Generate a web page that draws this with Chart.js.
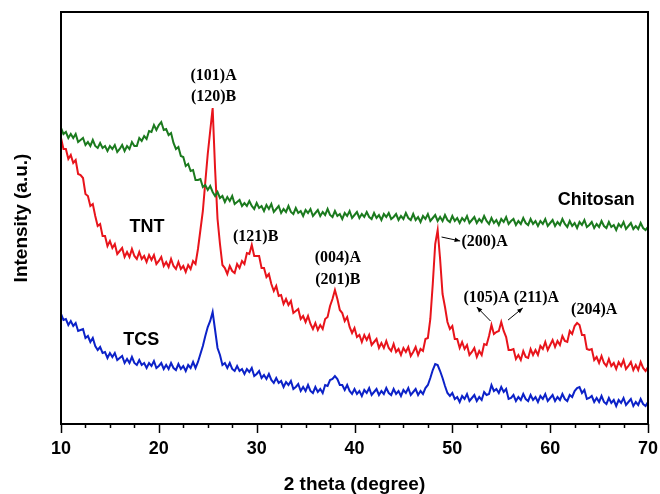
<!DOCTYPE html>
<html>
<head>
<meta charset="utf-8">
<script src="https://cdn.jsdelivr.net/npm/chart.js@4.4.1/dist/chart.umd.min.js"></script>
<style>
  html, body { margin: 0; padding: 0; background: #ffffff; }
  #grafico { display: block; }
</style>
</head>
<body>
<canvas id="grafico" width="660" height="494"></canvas>
<script>
// angulos 2 theta (grados), paso 0.25
var theta = [
    10, 10.25, 10.5, 10.75, 11, 11.25, 11.5, 11.75,
    12, 12.25, 12.5, 12.75, 13, 13.25, 13.5, 13.75,
    14, 14.25, 14.5, 14.75, 15, 15.25, 15.5, 15.75,
    16, 16.25, 16.5, 16.75, 17, 17.25, 17.5, 17.75,
    18, 18.25, 18.5, 18.75, 19, 19.25, 19.5, 19.75,
    20, 20.25, 20.5, 20.75, 21, 21.25, 21.5, 21.75,
    22, 22.25, 22.5, 22.75, 23, 23.25, 23.5, 23.75,
    24, 24.25, 24.5, 24.75, 25, 25.25, 25.5, 25.75,
    26, 26.25, 26.5, 26.75, 27, 27.25, 27.5, 27.75,
    28, 28.25, 28.5, 28.75, 29, 29.25, 29.5, 29.75,
    30, 30.25, 30.5, 30.75, 31, 31.25, 31.5, 31.75,
    32, 32.25, 32.5, 32.75, 33, 33.25, 33.5, 33.75,
    34, 34.25, 34.5, 34.75, 35, 35.25, 35.5, 35.75,
    36, 36.25, 36.5, 36.75, 37, 37.25, 37.5, 37.75,
    38, 38.25, 38.5, 38.75, 39, 39.25, 39.5, 39.75,
    40, 40.25, 40.5, 40.75, 41, 41.25, 41.5, 41.75,
    42, 42.25, 42.5, 42.75, 43, 43.25, 43.5, 43.75,
    44, 44.25, 44.5, 44.75, 45, 45.25, 45.5, 45.75,
    46, 46.25, 46.5, 46.75, 47, 47.25, 47.5, 47.75,
    48, 48.25, 48.5, 48.75, 49, 49.25, 49.5, 49.75,
    50, 50.25, 50.5, 50.75, 51, 51.25, 51.5, 51.75,
    52, 52.25, 52.5, 52.75, 53, 53.25, 53.5, 53.75,
    54, 54.25, 54.5, 54.75, 55, 55.25, 55.5, 55.75,
    56, 56.25, 56.5, 56.75, 57, 57.25, 57.5, 57.75,
    58, 58.25, 58.5, 58.75, 59, 59.25, 59.5, 59.75,
    60, 60.25, 60.5, 60.75, 61, 61.25, 61.5, 61.75,
    62, 62.25, 62.5, 62.75, 63, 63.25, 63.5, 63.75,
    64, 64.25, 64.5, 64.75, 65, 65.25, 65.5, 65.75,
    66, 66.25, 66.5, 66.75, 67, 67.25, 67.5, 67.75,
    68, 68.25, 68.5, 68.75, 69, 69.25, 69.5, 69.75,
    70
];

// intensidad (u.a.)
var chitosan = [
    296, 290, 292, 286, 290, 286, 290, 282,
    284, 286, 279, 282, 278, 284, 278, 276,
    281, 276, 278, 273, 278, 275, 279, 272,
    275, 279, 273, 278, 275, 282, 278, 278,
    286, 283, 288, 285, 293, 292, 299, 294,
    299, 302, 294, 295, 289, 291, 281, 275,
    277, 268, 267, 258, 260, 253, 254, 244,
    244, 245, 237, 239, 234, 238, 232, 228,
    232, 226, 228, 222, 227, 223, 228, 220,
    222, 224, 218, 221, 218, 223, 218, 215,
    221, 216, 218, 213, 219, 215, 220, 212,
    215, 218, 211, 215, 212, 218, 212, 210,
    216, 211, 213, 208, 214, 211, 215, 208,
    211, 214, 208, 212, 209, 215, 209, 207,
    213, 208, 210, 205, 211, 208, 213, 206,
    209, 212, 206, 210, 207, 212, 207, 205,
    211, 206, 209, 204, 210, 207, 211, 205,
    207, 210, 204, 208, 205, 211, 206, 204,
    210, 204, 207, 202, 208, 205, 210, 203,
    206, 209, 203, 207, 203, 209, 204, 202,
    208, 203, 206, 201, 206, 203, 208, 201,
    204, 207, 201, 205, 202, 208, 203, 200,
    206, 201, 204, 199, 205, 202, 207, 200,
    203, 205, 199, 203, 200, 206, 201, 199,
    205, 200, 203, 198, 203, 200, 205, 198,
    201, 204, 198, 202, 199, 205, 200, 197,
    203, 198, 201, 196, 202, 199, 204, 197,
    199, 202, 196, 200, 197, 203, 198, 196,
    202, 197, 199, 194, 200, 197, 202, 195,
    198, 201, 195, 198, 195, 201, 196, 194,
    197
];

var tnt = [
    286, 275, 275, 265, 269, 261, 264, 250,
    249, 246, 230, 228, 218, 220, 208, 198,
    200, 188, 188, 178, 183, 176, 180, 170,
    173, 176, 167, 172, 167, 175, 168, 165,
    172, 165, 168, 162, 169, 164, 169, 160,
    163, 167, 158, 162, 157, 165, 158, 155,
    162, 155, 158, 152, 159, 155, 163, 160,
    175, 194, 213, 242, 270, 293, 316, 255,
    205, 180, 159, 156, 150, 158, 153, 151,
    160, 156, 163, 160, 171, 170, 179, 168,
    168, 168, 156, 156, 147, 150, 140, 133,
    138, 128, 129, 120, 125, 119, 123, 111,
    113, 115, 105, 108, 102, 108, 100, 95,
    101, 94, 99, 95, 105, 107, 118, 125,
    134, 125, 114, 111, 103, 107, 97, 91,
    96, 87, 89, 82, 89, 84, 89, 79,
    82, 85, 76, 81, 76, 83, 76, 73,
    80, 72, 75, 69, 76, 72, 77, 68,
    72, 77, 69, 75, 73, 85, 86, 105,
    140, 180, 194, 165, 130, 117, 102, 95,
    98, 85, 85, 76, 82, 75, 79, 69,
    72, 76, 67, 73, 69, 80, 79, 88,
    99, 90, 92, 93, 102, 93, 87, 74,
    74, 75, 65, 69, 64, 73, 67, 66,
    75, 69, 74, 69, 78, 75, 82, 74,
    79, 84, 77, 83, 79, 88, 83, 82,
    93, 90, 98, 101, 99, 89, 89, 75,
    74, 75, 64, 67, 61, 68, 61, 58,
    65, 58, 61, 55, 62, 58, 64, 55,
    58, 62, 54, 59, 54, 62, 56, 53,
    57
];

var tcs = [
    110, 104, 105, 99, 103, 98, 101, 93,
    94, 95, 86, 88, 82, 86, 78, 74,
    77, 71, 72, 66, 71, 67, 71, 64,
    66, 68, 61, 65, 61, 67, 61, 59,
    64, 59, 61, 56, 61, 58, 63, 56,
    58, 61, 55, 59, 55, 61, 56, 54,
    60, 55, 58, 53, 59, 56, 62, 56,
    62, 70, 78, 88, 97, 103, 112, 94,
    76, 69, 59, 61, 56, 61, 55, 53,
    58, 53, 55, 50, 55, 52, 56, 48,
    50, 53, 46, 49, 45, 50, 44, 41,
    46, 41, 43, 37, 42, 39, 43, 35,
    37, 40, 33, 37, 33, 39, 33, 31,
    37, 32, 35, 31, 39, 38, 44, 45,
    48, 45, 39, 39, 34, 39, 33, 30,
    35, 30, 33, 28, 34, 31, 36, 29,
    32, 35, 29, 33, 30, 36, 31, 29,
    35, 30, 33, 28, 34, 31, 36, 29,
    32, 35, 29, 33, 30, 36, 39, 46,
    54, 60, 59, 53, 46, 38, 31, 28,
    31, 25, 27, 22, 28, 25, 30, 23,
    26, 29, 23, 27, 24, 32, 29, 30,
    39, 33, 35, 31, 37, 32, 35, 25,
    26, 29, 23, 27, 24, 30, 25, 23,
    29, 24, 27, 22, 28, 25, 30, 23,
    26, 29, 23, 27, 24, 30, 25, 23,
    29, 27, 33, 36, 37, 31, 34, 25,
    26, 28, 22, 26, 22, 28, 22, 20,
    26, 21, 24, 18, 24, 21, 26, 19,
    22, 25, 18, 22, 19, 25, 20, 18,
    22
];

var ticksX = [10, 20, 30, 40, 50, 60, 70];

// etiquetas de picos (posicion en unidades del grafico)
var etiquetas = [
    { texto: '(101)A', x: 25.6, y: 348, fuente: 'serif' },
    { texto: '(120)B', x: 25.6, y: 327, fuente: 'serif' },
    { texto: '(121)B', x: 29.9, y: 187, fuente: 'serif' },
    { texto: '(004)A', x: 38.3, y: 166, fuente: 'serif' },
    { texto: '(201)B', x: 38.3, y: 144, fuente: 'serif' },
    { texto: '(200)A', x: 53.3, y: 182, fuente: 'serif' },
    { texto: '(105)A', x: 53.5, y: 126, fuente: 'serif' },
    { texto: '(211)A', x: 58.6, y: 126, fuente: 'serif' },
    { texto: '(204)A', x: 64.5, y: 114, fuente: 'serif' },
    { texto: 'TNT', x: 18.8, y: 197, fuente: 'sans' },
    { texto: 'TCS', x: 18.2, y: 84, fuente: 'sans' },
    { texto: 'Chitosan', x: 64.7, y: 224, fuente: 'sans' }
];

var flechas = [
    { x1: 48.9, y1: 187, x2: 50.8, y2: 183 },
    { x1: 53.9, y1: 103, x2: 52.5, y2: 117 },
    { x1: 55.7, y1: 104, x2: 57.2, y2: 116 }
];

function puntos(valores) {
    return theta.map(function (t, i) { return { x: t, y: valores[i] }; });
}

var marco = {
    id: 'marco',
    afterDatasetsDraw: function (chart) {
        var ctx = chart.ctx;
        var area = chart.chartArea;
        var escX = chart.scales.x;
        var escY = chart.scales.y;

        ctx.save();
        // marco
        ctx.strokeStyle = '#000';
        ctx.lineWidth = 2;
        ctx.strokeRect(area.left, area.top, area.right - area.left, area.bottom - area.top);

        // marcas del eje x
        ctx.lineWidth = 1.5;
        for (var v = escX.min; v <= escX.max + 0.01; v += 2.5) {
            var px = Math.round(escX.getPixelForValue(v)) + 0.5;
            var largo = (v % 10 === 0) ? 9 : 4;
            ctx.beginPath();
            ctx.moveTo(px, area.bottom);
            ctx.lineTo(px, area.bottom + largo);
            ctx.stroke();
        }

        // etiquetas
        ctx.fillStyle = '#000';
        ctx.textAlign = 'center';
        ctx.textBaseline = 'middle';
        etiquetas.forEach(function (e) {
            ctx.font = e.fuente === 'serif'
                ? 'bold 16px "Liberation Serif", "Times New Roman", serif'
                : 'bold 18px "Liberation Sans", Arial, sans-serif';
            ctx.fillText(e.texto, escX.getPixelForValue(e.x), escY.getPixelForValue(e.y));
        });

        // flechas
        ctx.lineWidth = 1;
        flechas.forEach(function (f) {
            var x1 = escX.getPixelForValue(f.x1), y1 = escY.getPixelForValue(f.y1);
            var x2 = escX.getPixelForValue(f.x2), y2 = escY.getPixelForValue(f.y2);
            var ang = Math.atan2(y2 - y1, x2 - x1);
            ctx.beginPath();
            ctx.moveTo(x1, y1);
            ctx.lineTo(x2, y2);
            ctx.stroke();
            ctx.beginPath();
            ctx.moveTo(x2, y2);
            ctx.lineTo(x2 - 6 * Math.cos(ang - 0.4), y2 - 6 * Math.sin(ang - 0.4));
            ctx.lineTo(x2 - 6 * Math.cos(ang + 0.4), y2 - 6 * Math.sin(ang + 0.4));
            ctx.closePath();
            ctx.fill();
        });
        ctx.restore();
    }
};

var grafico = new Chart(document.getElementById('grafico'), {
    type: 'line',
    data: {
        datasets: [
            { label: 'Chitosan', data: puntos(chitosan), borderColor: '#1b7a1e', borderWidth: 2, pointRadius: 0 },
            { label: 'TNT', data: puntos(tnt), borderColor: '#e8141b', borderWidth: 2, pointRadius: 0 },
            { label: 'TCS', data: puntos(tcs), borderColor: '#0c22c8', borderWidth: 2, pointRadius: 0 }
        ]
    },
    options: {
        responsive: false,
        animation: false,
        devicePixelRatio: 1,
        layout: { padding: { top: 12, right: 12, left: 0, bottom: 0 } },
        plugins: { legend: { display: false }, tooltip: { enabled: false } },
        scales: {
            x: {
                type: 'linear',
                min: 10,
                max: 70,
                afterFit: function (s) { s.height = 70; s.paddingLeft = 0; s.paddingRight = 0; },
                afterBuildTicks: function (s) { s.ticks = ticksX.map(function (v) { return { value: v }; }); },
                grid: { display: false, drawTicks: false },
                border: { display: false },
                ticks: {
                    color: '#000',
                    padding: 14,
                    font: { family: '"Liberation Sans", Arial, sans-serif', size: 18, weight: 'bold' }
                },
                title: {
                    display: true,
                    text: '2 theta (degree)',
                    color: '#000',
                    padding: 0,
                    font: { family: '"Liberation Sans", Arial, sans-serif', size: 19, weight: 'bold', lineHeight: 1 }
                }
            },
            y: {
                min: 0,
                max: 412,
                afterFit: function (s) { s.width = 61; },
                grid: { display: false, drawTicks: false },
                border: { display: false },
                ticks: { display: false },
                title: {
                    display: true,
                    text: 'Intensity (a.u.)',
                    color: '#000',
                    padding: { top: 12, bottom: 0 },
                    font: { family: '"Liberation Sans", Arial, sans-serif', size: 19, weight: 'bold', lineHeight: 1 }
                }
            }
        }
    },
    plugins: [marco]
});
</script>
</body>
</html>
